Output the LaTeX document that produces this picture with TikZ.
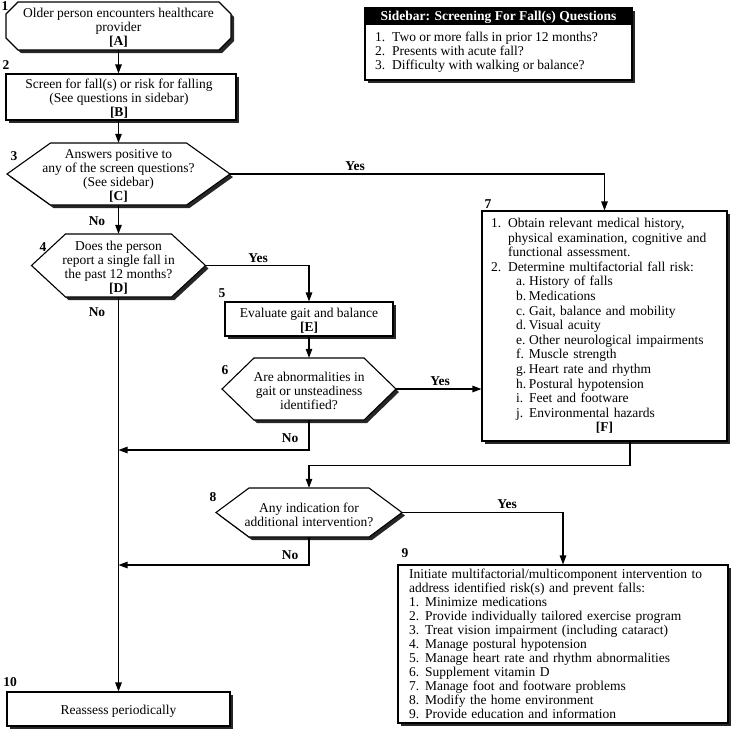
\documentclass[tikz,border=0pt]{standalone}
\usepackage{fontspec}
\setmainfont{Liberation Serif}
\usetikzlibrary{arrows.meta,shadows,calc}
\newcommand\myhexpath[5]{%
  \path[shp] (#1-#3,#2) -- (#1-#4,#2-#5) -- (#1+#4,#2-#5) -- (#1+#3,#2) -- (#1+#4,#2+#5) -- (#1-#4,#2+#5) -- cycle;}
\tikzset{
  every node/.style={font=\fontsize{13.5}{14}\selectfont},
  shp/.style={draw=black, line width=1.1pt, fill=white,
    drop shadow={shadow xshift=3pt, shadow yshift=-3pt, opacity=1, fill=black!85}},
  box/.style={shp, rectangle, inner sep=0pt},
  geo/.style={inner sep=0pt},
  txt/.style={inner sep=0pt, align=center, yshift=-2pt},
  lbl/.style={inner sep=0pt, font=\fontsize{13.5}{14}\selectfont\bfseries},
  arr/.style={line width=1.1pt, -{Triangle[length=9pt,width=6.5pt]}},
}
\begin{document}
\begin{tikzpicture}[x=1pt,y=-1pt]
\useasboundingbox (0,0) rectangle (735,731);

% ---- sidebar
\node[box, minimum width=267pt, minimum height=72pt] (S) at (498.5,44) {};
\fill[black] (S.north west) rectangle ($(S.north east)+(0,18)$);
\node[lbl, text=white] (Sh) at (498.5,17) {Sidebar: Screening For Fall(s) Questions};
\node[inner sep=0pt, align=left, anchor=west] (Si) at (375,52) {%
\makebox[17pt][l]{1.}Two or more falls in prior 12 months?\\
\makebox[17pt][l]{2.}Presents with acute fall?\\
\makebox[17pt][l]{3.}Difficulty with walking or balance?};

% ---- 1 (A)
\path[shp] (18,2) -- (219,2) -- (231,14) -- (231,38) -- (219,50) -- (18,50) -- (6,38) -- (6,14) -- cycle;
\node[geo, minimum width=225pt, minimum height=48pt] (A) at (118.5,26) {};
\node[txt] (At) at (A) {Older person encounters healthcare\\provider\\\textbf{[A]}};

% ---- 2 (B)
\node[box, minimum width=230pt, minimum height=46pt] (B) at (121,97) {};
\node[txt] (Bt) at (119,97) {Screen for fall(s) or risk for falling\\(See questions in sidebar)\\\textbf{[B]}};

% ---- 3 (C)
\myhexpath{118.5}{174}{111.5}{68}{31}
\node[geo, minimum width=223pt, minimum height=62pt] (C) at (118.5,174) {};
\node[txt] (Ct) at (C) {Answers positive to\\any of the screen questions?\\(See sidebar)\\\textbf{[C]}};

% ---- 4 (D)
\myhexpath{118.5}{265.5}{87}{53}{31.5}
\node[geo, minimum width=174pt, minimum height=63pt] (D) at (118.5,265.5) {};
\node[txt] (Dt) at (D) {Does the person\\report a single fall in\\the past 12 months?\\\textbf{[D]}};

% ---- 5 (E)
\node[box, minimum width=168pt, minimum height=34pt] (E) at (309,319) {};
\node[txt] (Et) at (E) {Evaluate gait and balance\\\textbf{[E]}};

% ---- 6
\myhexpath{309}{389}{87}{55}{31}
\node[geo, minimum width=174pt, minimum height=62pt] (H6) at (309,389) {};
\node[txt] (H6t) at (H6) {Are abnormalities in\\gait or unsteadiness\\identified?};

% ---- 7 (F)
\node[shp, rectangle, minimum width=245pt, minimum height=230pt, inner xsep=9pt, inner ysep=0pt,
      text width=227pt, align=left, font=\fontsize{13.5}{14.6}\selectfont] (F) at (604.5,326) {%
\makebox[17pt][l]{1.}Obtain relevant medical history,\\
\hspace*{17pt}physical examination, cognitive and\\
\hspace*{17pt}functional assessment.\\
\makebox[17pt][l]{2.}Determine multifactorial fall risk:\\
\hspace*{25pt}\makebox[13pt][l]{a.}History of falls\\
\hspace*{25pt}\makebox[13pt][l]{b.}Medications\\
\hspace*{25pt}\makebox[13pt][l]{c.}Gait, balance and mobility\\
\hspace*{25pt}\makebox[13pt][l]{d.}Visual acuity\\
\hspace*{25pt}\makebox[13pt][l]{e.}Other neurological impairments\\
\hspace*{25pt}\makebox[13pt][l]{f.}Muscle strength\\
\hspace*{25pt}\makebox[13pt][l]{g.}Heart rate and rhythm\\
\hspace*{25pt}\makebox[13pt][l]{h.}Postural hypotension\\
\hspace*{25pt}\makebox[13pt][l]{i.}Feet and footware\\
\hspace*{25pt}\makebox[13pt][l]{j.}Environmental hazards\\
\makebox[227pt]{\textbf{[F]}}};

% ---- 8
\myhexpath{309}{512.5}{93}{60}{24.5}
\node[geo, minimum width=186pt, minimum height=49pt] (H8) at (309,512.5) {};
\node[txt] (H8t) at (H8) {Any indication for\\additional intervention?};

% ---- 9 (I)
\node[shp, rectangle, minimum width=330pt, minimum height=158pt, inner xsep=11pt, inner ysep=0pt,
      text width=308pt, align=left] (I) at (563,644) {%
Initiate multifactorial/multicomponent intervention to\\
address identified risk(s) and prevent falls:\\
\makebox[16pt][l]{1.}Minimize medications\\
\makebox[16pt][l]{2.}Provide individually tailored exercise program\\
\makebox[16pt][l]{3.}Treat vision impairment (including cataract)\\
\makebox[16pt][l]{4.}Manage postural hypotension\\
\makebox[16pt][l]{5.}Manage heart rate and rhythm abnormalities\\
\makebox[16pt][l]{6.}Supplement vitamin D\\
\makebox[16pt][l]{7.}Manage foot and footware problems\\
\makebox[16pt][l]{8.}Modify the home environment\\
\makebox[16pt][l]{9.}Provide education and information};

% ---- 10 (J)
\node[box, minimum width=223pt, minimum height=34pt] (J) at (118.5,709) {};
\node[txt] (Jt) at (J) {Reassess periodically};

% ---- step numbers
\node[lbl] (n1) at (5,6) {1};
\node[lbl] (n2) at (6,65) {2};
\node[lbl] (n3) at (14,156) {3};
\node[lbl] (n4) at (43,247) {4};
\node[lbl] (n5) at (222,293) {5};
\node[lbl] (n6) at (225,370) {6};
\node[lbl] (n7) at (488,204) {7};
\node[lbl] (n8) at (213,497) {8};
\node[lbl] (n9) at (405,553) {9};
\node[lbl] (n10) at (10,682) {10};

% ---- connectors
\coordinate (t1) at (118.5,450);
\coordinate (t2) at (118.5,565);
\coordinate (Fo) at ($(F.south)+(25.5,0)$);
\draw[arr] (A.south) -- (A.south |- B.north);
\draw[arr] (B.south -| C.north) -- (C.north);
\draw[arr] (C.south) -- (D.north);
\draw[arr] (C.east) -| (F.north);
\draw[arr] (D.south) -- (J.north);
\draw[arr] (D.east) -| (E.north);
\draw[arr] (E.south) -- (H6.north);
\draw[arr] (H6.east) -- (H6.east -| F.west);
\draw[arr] (H6.south) |- (t1);
\draw[arr] (Fo) -- ++(0,24) -| (H8.north);
\draw[arr] (H8.east) -| (I.north);
\draw[arr] (H8.south) |- (t2);

% ---- yes / no labels
\node[lbl] (yC) at (355,166) {Yes};
\node[lbl] (nC) at (97,221) {No};
\node[lbl] (yD) at (258,258) {Yes};
\node[lbl] (nD) at (97,312) {No};
\node[lbl] (y6) at (440,381) {Yes};
\node[lbl] (n6b) at (290,438) {No};
\node[lbl] (y8) at (507,504) {Yes};
\node[lbl] (n8b) at (290,555) {No};
\end{tikzpicture}
\end{document}
